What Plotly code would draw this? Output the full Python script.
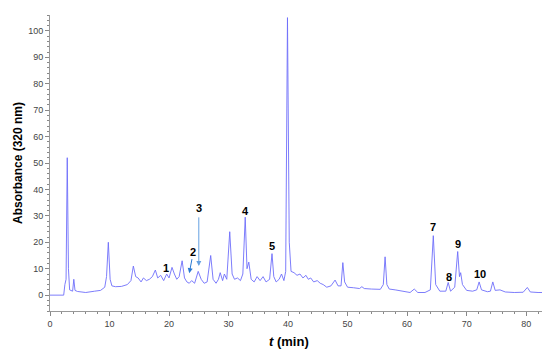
import plotly.graph_objects as go

# Retention time (min) and absorbance at 320 nm
time_min = [0, 2.3, 2.5, 2.7, 2.9, 3.1, 3.3, 3.8, 4.0, 4.2, 4.6, 6.0, 7.5, 8.5, 9.2, 9.5, 9.8, 10.1, 10.4,
            11.0, 12.0, 13.0, 13.6, 14.0, 14.4, 14.8, 15.3, 15.7, 16.2, 16.7, 17.2, 17.7, 18.1, 18.6,
            19.1, 19.6, 20.0, 20.5, 20.9, 21.3, 21.7, 22.2, 22.6, 23.0, 23.4, 23.8, 24.3, 24.9, 25.4,
            25.9, 26.4, 27.0, 27.4, 27.9, 28.3, 28.6, 29.0, 29.3, 29.7, 30.2, 30.6, 31.0, 31.5, 32.0,
            32.4, 32.8, 33.1, 33.4, 33.8, 34.3, 34.8, 35.3, 35.8, 36.3, 36.9, 37.3, 37.6, 38.0, 38.5,
            38.9, 39.3, 39.6, 39.9, 40.2, 40.5, 41.0, 41.5, 42.0, 42.5, 43.0, 43.4, 43.8, 44.3, 44.9,
            45.4, 45.9, 46.5, 47.2, 47.9, 48.4, 48.9, 49.2, 49.5, 50.0, 51.0, 52.0, 52.4, 52.8, 54.0,
            55.5, 56.0, 56.3, 56.6, 57.0, 58.0, 59.0, 60.5, 61.2, 61.8, 63.0, 63.9, 64.4, 64.8, 65.5,
            66.5, 66.9, 67.3, 68.0, 68.5, 68.8, 69.0, 69.3, 70.0, 71.0, 71.7, 72.1, 72.5, 73.5, 74.0,
            74.4, 74.8, 75.6, 76.5, 78.0, 79.5, 80.2, 80.7, 82.0, 83.0]
absorbance = [0, 0, 4, 6, 52, 10, 2, 1.5, 6, 1.8, 1.4, 1.0, 1.5, 1.8, 3, 7, 20, 6, 3.5,
              3.2, 3.3, 4.0, 5.5, 11, 7, 6.5, 5, 6.5, 5.5, 6, 7, 9.5, 6.5, 7.5,
              5.5, 8, 6.5, 10.5, 8, 6, 7, 13, 6.5, 5, 4.5, 5.5, 4.5, 9, 6,
              4.5, 5, 15, 6, 4.5, 6, 8.5, 5.5, 8, 6, 24, 8, 6, 6.5, 5.5,
              8, 29.5, 10, 12.5, 6, 5, 7, 5.5, 7, 5, 6, 15.7, 7, 5, 6,
              8, 5.5, 9, 105, 20, 9, 8.5, 7.5, 8, 6.5, 7.5, 6, 6.5, 5, 5.5,
              4.5, 4, 3, 3.5, 5.7, 3.5, 3.5, 12.3, 5, 3, 2.8, 2.5, 3.2, 2.5, 2.3,
              2.2, 4, 14.5, 4, 2.3, 2.0, 1.5, 1.0, 2.3, 1.0, 1.0, 2, 22.5, 4, 1.5,
              1.5, 4.8, 1.5, 3, 16.5, 7, 8.5, 4, 1.8, 1.5, 2, 5, 2, 1.3, 1.5,
              5, 1.8, 2, 1.2, 1.0, 1.1, 2.9, 1.2, 1.0, 1.0]

# Peak labels
peak_labels = ["1", "2", "3", "4", "5", "6", "7", "8", "9", "10"]
label_t = [19.5, 24.1, 25.1, 32.9, 37.3, 40.2, 64.3, 67.0, 68.6, 72.2]
label_a = [10.2, 16.4, 33.1, 31.9, 18.6, 107.3, 25.8, 6.7, 19.5, 7.9]

x_ticks = [0, 10, 20, 30, 40, 50, 60, 70, 80]
y_ticks = [0, 10, 20, 30, 40, 50, 60, 70, 80, 90, 100]

fig = go.Figure()
fig.add_trace(go.Scatter(x=time_min, y=absorbance, mode="lines",
                         line=dict(color="rgb(110,110,250)", width=0.9),
                         showlegend=False, hoverinfo="skip", cliponaxis=False))

annotations = []
for lbl, t, a in zip(peak_labels, label_t, label_a):
    annotations.append(dict(x=t, y=a, xref="x", yref="y", text="<b>%s</b>" % lbl,
                            showarrow=False, font=dict(family="Liberation Sans, Arial", size=11, color="black")))

# arrows for peaks 2 and 3
annotations.append(dict(x=23.4, y=8.3, xref="x", yref="y", ax=23.9, ay=14.2, axref="x", ayref="y",
                        text="", showarrow=True, arrowhead=2, arrowsize=1, arrowwidth=1,
                        arrowcolor="rgb(40,120,210)"))
annotations.append(dict(x=25.0, y=11.0, xref="x", yref="y", ax=25.0, ay=30.0, axref="x", ayref="y",
                        text="", showarrow=True, arrowhead=2, arrowsize=1, arrowwidth=1,
                        arrowcolor="rgb(100,160,225)"))

# axis titles
annotations.append(dict(x=(289 - 50) / 494.0, y=-30 / 296.0, xref="paper", yref="paper",
                        text="<b><i>t</i> (min)</b>", showarrow=False, yanchor="middle",
                        font=dict(family="Liberation Sans, Arial", size=13, color="black")))
annotations.append(dict(x=-32 / 494.0, y=0.5, xref="paper", yref="paper",
                        text="<b>Absorbance (320 nm)</b>", showarrow=False, textangle=-90,
                        xanchor="center", yanchor="middle",
                        font=dict(family="Liberation Sans, Arial", size=12, color="black")))

# page body has an 8px default margin, so the figure is sized 8px smaller
fig.update_layout(
    width=542, height=344,
    margin=dict(l=42, r=6, t=7, b=41, autoexpand=False),
    paper_bgcolor="white", plot_bgcolor="white",
    annotations=annotations,
    font=dict(family="Liberation Sans, Arial", size=9, color="#444"),
    xaxis=dict(range=[0, 83], tickvals=x_ticks, ticks="outside", ticklen=4, tickcolor="#888",
               showline=True, linecolor="#999", linewidth=1, showgrid=False, zeroline=False,
               automargin=False,
               minor=dict(dtick=2, tick0=0, ticks="outside", ticklen=2, tickcolor="#888"),
               tickfont=dict(size=9, color="#444")),
    yaxis=dict(range=[-6, 106], tickvals=y_ticks, ticks="outside", ticklen=4, tickcolor="#888",
               showline=True, linecolor="#999", linewidth=1, showgrid=False, zeroline=False,
               automargin=False,
               minor=dict(dtick=2, tick0=0, ticks="outside", ticklen=2, tickcolor="#888"),
               tickfont=dict(size=9, color="#444")),
)

fig.write_html("out.html")
